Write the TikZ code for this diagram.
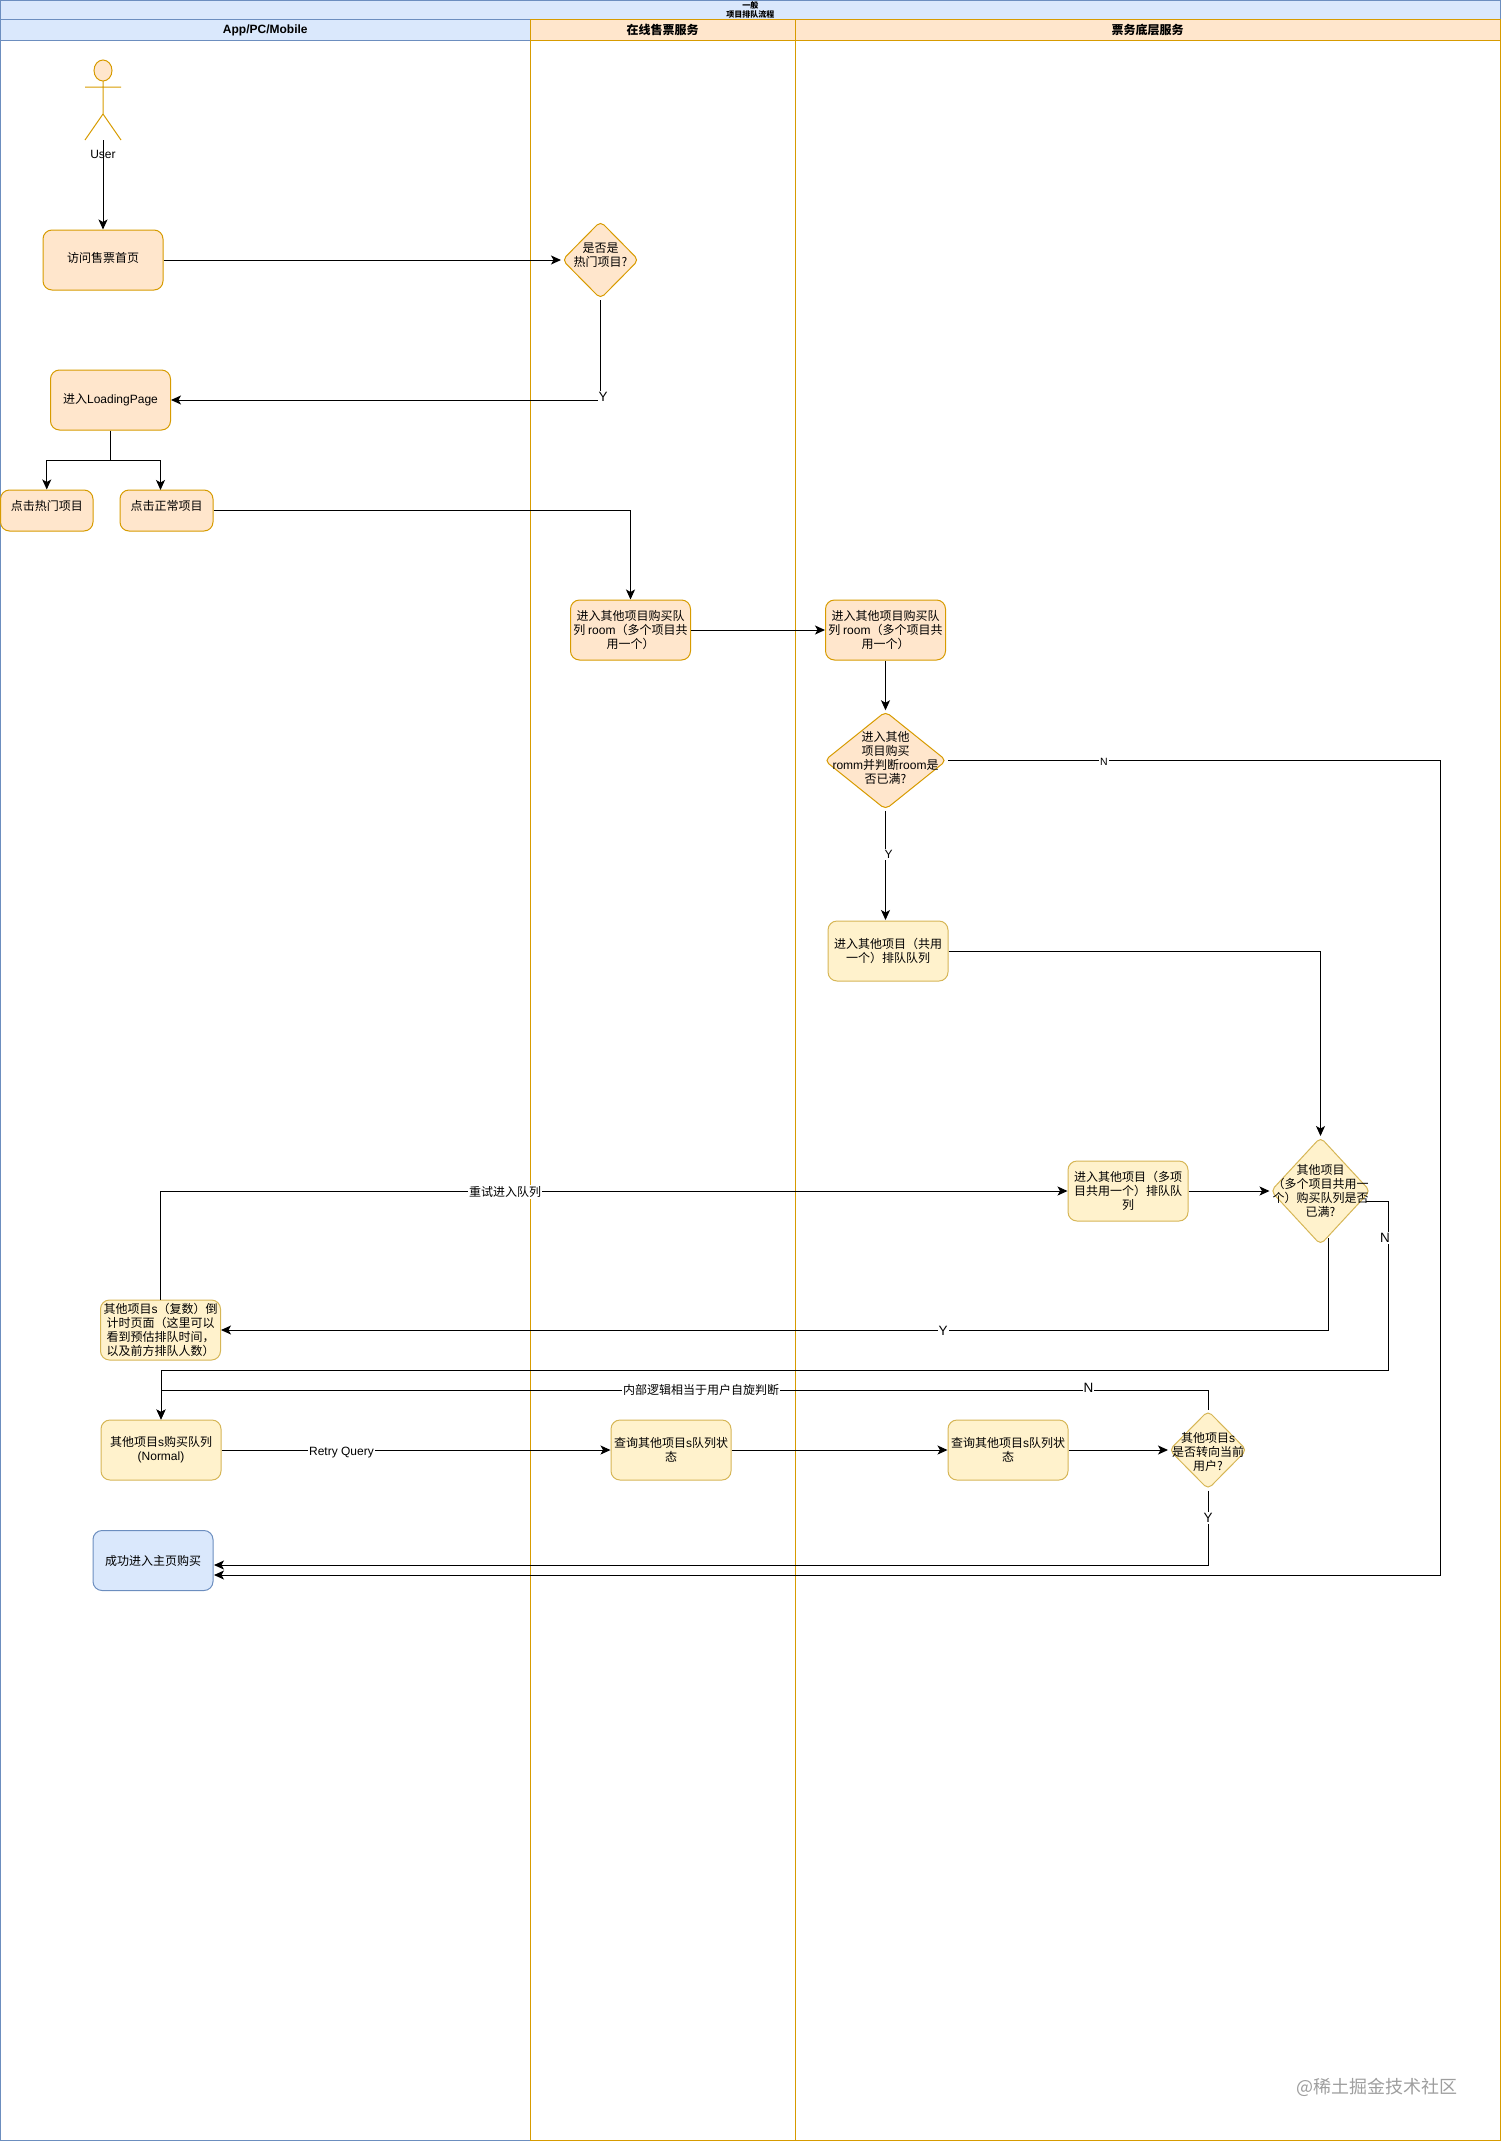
\documentclass[tikz,border=0pt]{standalone}
\usepackage{fontspec}
\setmainfont{Noto Sans CJK SC}
\newfontfamily\lat{Liberation Sans}
\newcommand{\la}[1]{{\lat #1}}
\usetikzlibrary{arrows.meta,shapes.geometric}
\definecolor{bluefill}{HTML}{DAE8FC}
\definecolor{blueline}{HTML}{6C8EBF}
\definecolor{orangefill}{HTML}{FFE6CC}
\definecolor{orangeline}{HTML}{D79B00}
\definecolor{yellowfill}{HTML}{FFF2CC}
\definecolor{yellowline}{HTML}{D6B656}
\tikzstyle{txt}=[font=\fontsize{12}{14}\selectfont,align=center,inner sep=0pt]
\tikzstyle{box}=[rectangle,draw,rounded corners=9pt,minimum width=120pt,minimum height=60pt,inner sep=0pt,outer sep=0.5pt,line width=1pt,txt]
\tikzstyle{decide}=[diamond,draw,rounded corners=5pt,inner sep=0pt,outer sep=1pt,line width=1pt]
\tikzstyle{orangebox}=[fill=orangefill,draw=orangeline]
\tikzstyle{yellowbox}=[fill=yellowfill,draw=yellowline]
\tikzstyle{bluebox}=[fill=bluefill,draw=blueline]
\tikzstyle{lane}=[rectangle,draw,inner sep=0pt,outer sep=0pt,line width=1pt,align=center]
\tikzstyle{head}=[lane,font=\fontsize{12}{14}\selectfont\bfseries,minimum height=20.5pt]
\tikzstyle{flow}=[-{Stealth[length=10pt,width=9pt,inset=2.5pt]},line width=1pt]
\tikzstyle{plain}=[line width=1pt]
\tikzstyle{tag}=[fill=white,inner sep=1pt,font=\fontsize{12}{14}\selectfont]
\tikzstyle{bigtag}=[tag,font=\fontsize{13.5}{14}\selectfont]
\tikzstyle{smalltag}=[tag,font=\fontsize{10.5}{12}\selectfont]
\begin{document}
\begin{tikzpicture}[x=1pt,y=-1pt]
\useasboundingbox (0,0) rectangle (1501,2141);
\node[lane,draw=blueline,minimum width=529.5pt,minimum height=2100pt] at (265.25,1090) (appbody) {};
\node[lane,draw=orangeline,minimum width=265pt,minimum height=2100pt] at (662.5,1090) (salebody) {};
\node[lane,draw=orangeline,minimum width=705pt,minimum height=2100pt] at (1147.5,1090) (ticketbody) {};
\node[lane,bluebox,minimum width=1499.5pt,minimum height=20pt,font=\fontsize{8}{9}\selectfont\bfseries] at (750.25,10.25) (title) {一般\\项目排队流程};
\node[head,bluebox,minimum width=529.5pt] at (265.25,30.25) (apphead) {\raisebox{-1pt}{\la{App/PC/Mobile}}};
\node[head,orangebox,minimum width=265pt] at (662.5,30.25) (salehead) {\raisebox{-1pt}{在线售票服务}};
\node[head,orangebox,minimum width=705pt] at (1147.5,30.25) (tickethead) {\raisebox{-1pt}{票务底层服务}};

\node[ellipse,draw=orangeline,fill=orangefill,line width=1pt,minimum width=18pt,minimum height=21pt,inner sep=0pt,outer sep=0pt] at (103,70.5) (userhead) {};
\coordinate (userhip) at (103,114);
\coordinate (userfoot) at (103,140);
\draw[orangeline,line width=1pt] (userhead.south) -- (userhip) (85,87) -- (121,87) (85,140) -- (userhip) -- (121,140);
\node[font=\fontsize{12}{14}\selectfont,inner sep=0pt] at (103,154) (user) {\la{User}};

\node[box,orangebox] at (103,260) (home) {\raisebox{5pt}{访问售票首页}};
\node[decide,orangebox,minimum width=77pt,minimum height=78pt,label={[txt,yshift=5pt]center:{是否是\\热门项目?}}] at (600.5,260) (hot) {};
\node[box,orangebox] at (110.5,400) (load) {\raisebox{3.5pt}{进入\la{LoadingPage}}};
\node[box,orangebox,minimum width=92.5pt,minimum height=41pt] at (46.75,510.5) (clickhot) {\raisebox{10pt}{点击热门项目}};
\node[box,orangebox,minimum width=93pt,minimum height=41pt] at (166.5,510.5) (clicknormal) {\raisebox{10pt}{点击正常项目}};
\coordinate (clickin) at (160.5,490);
\node[box,orangebox] at (630.5,630) (rooma) {进入其他项目购买队\\列 \la{room}（多个项目共\\用一个）};
\node[box,orangebox] at (885.5,630) (roomb) {进入其他项目购买队\\列 \la{room}（多个项目共\\用一个）};
\node[decide,orangebox,minimum width=122.5pt,minimum height=98.5pt,label={[txt,yshift=3pt]center:{进入其他\\项目购买\\\la{romm}并判断\la{room}是\\否已满?}}] at (885.5,760.5) (roomfull) {};
\node[box,yellowbox] at (888,951) (share) {进入其他项目（共用\\一个）排队队列};
\node[box,yellowbox] at (1128,1191) (many) {进入其他项目（多项\\目共用一个）排队队\\列};
\node[decide,yellowbox,minimum width=100pt,minimum height=108pt,label={[txt]center:{其他项目\\（多个项目共用一\\个）购买队列是否\\已满?}}] at (1320.5,1191) (queuefull) {};
\coordinate (queueno) at (1366,1201);
\coordinate (queueyes) at (1328,1238);
\node[box,yellowbox] at (160.5,1330) (count) {其他项目\la{s}（复数）倒\\计时页面（这里可以\\看到预估排队时间，\\以及前方排队人数）};
\node[box,yellowbox] at (161,1450) (normal) {其他项目\la{s}购买队列\\\la{(Normal)}};
\node[box,yellowbox] at (671,1450) (querya) {查询其他项目\la{s}队列状\\态};
\node[box,yellowbox] at (1008,1450) (queryb) {查询其他项目\la{s}队列状\\态};
\node[decide,yellowbox,minimum width=78pt,minimum height=79pt,label={[txt,yshift=-1.5pt]center:{其他项目\la{s}\\是否转向当前\\用户?}}] at (1208,1450) (turn) {};
\node[box,bluebox] at (153,1560.5) (success) {成功进入主页购买};
\coordinate (successa) at (214,1565);
\coordinate (successb) at (214,1575);

\draw[flow] (userfoot) -- (home.north);
\draw[flow] (home.east) -- (hot.west);
\draw[flow] (hot.south) |- (load.east);
\draw[plain] (load.south) -- (110.5,460);
\draw[flow] (110.5,460) -| (clickhot.north);
\draw[flow] (110.5,460) -| (clickin);
\draw[flow] (clicknormal.east) -| (rooma.north);
\draw[flow] (rooma.east) -- (roomb.west);
\draw[flow] (roomb.south) -- (roomfull.north);
\draw[flow] (roomfull.south) -- (885.5,920);
\draw[flow] (roomfull.east) -- (1440,760.5) |- (successb);
\draw[flow] (share.east) -| (queuefull.north);
\draw[flow] (many.east) -- (queuefull.west);
\draw[flow] (count.north) |- (many.west);
\draw[flow] (queueyes) |- (count.east);
\draw[flow] (queueno) -| (1388,1370) -| (normal.north);
\draw[flow] (turn.north) -- (1208,1390) -| (normal.north);
\draw[flow] (normal.east) -- (querya.west);
\draw[flow] (querya.east) -- (queryb.west);
\draw[flow] (queryb.east) -- (turn.west);
\draw[flow] (turn.south) |- (successa);

\node[bigtag] at (603,397) (taghot) {\la{Y}};
\node[smalltag] at (1104,762) (tagroomno) {\la{N}};
\node[tag] at (888.5,854.5) (tagroomyes) {\la{Y}};
\node[tag] at (505,1192) (tagretry) {重试进入队列};
\node[bigtag] at (1385,1238) (tagqueueno) {\la{N}};
\node[bigtag] at (943,1331) (tagqueueyes) {\la{Y}};
\node[tag] at (701,1390) (taginner) {内部逻辑相当于用户自旋判断};
\node[bigtag] at (1088.5,1388) (tagturnno) {\la{N}};
\node[tag] at (341.5,1453) (tagquery) {\la{Retry Query}};
\node[bigtag] at (1208,1518) (tagturnyes) {\la{Y}};

\node[inner sep=0pt,text=black!38,font=\fontsize{18}{20}\selectfont] at (1377,2087) (mark) {@稀土掘金技术社区};
\end{tikzpicture}
\end{document}
